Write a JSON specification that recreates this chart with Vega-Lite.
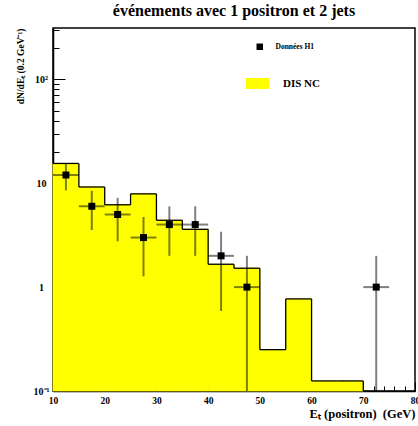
{
  "$schema": "https://vega.github.io/schema/vega-lite/v6.json",
  "autosize": {"type": "none"},
  "padding": {"left": 53, "top": 28, "right": 3, "bottom": 35},
  "width": 362,
  "height": 363,
  "background": "white",
  "config": {
    "view": {"stroke": "black", "strokeWidth": 1.5},
    "font": "Liberation Serif",
    "axis": {"labelFont": "Liberation Serif", "labelFontWeight": "bold", "labelColor": "black", "titleFont": "Liberation Serif", "titleFontWeight": "bold", "titleColor": "black", "tickColor": "black", "domainColor": "black", "grid": false, "zindex": 1},
    "legend": {"labelFont": "Liberation Serif", "labelFontWeight": "bold", "labelColor": "black", "padding": 0, "title": null}
  },
  "title": {"text": "événements avec 1 positron et 2 jets", "font": "Liberation Serif", "fontWeight": "bold", "fontSize": 16, "anchor": "middle", "frame": "group", "baseline": "alphabetic", "offset": 10, "dy": 14, "color": "black"},
  "datasets": {
    "hist": [
      {"lo": 10, "hi": 15, "v": 15.5, "next": 9.2, "series": "DIS NC"},
      {"lo": 15, "hi": 20, "v": 9.2, "next": 6.2, "series": "DIS NC"},
      {"lo": 20, "hi": 25, "v": 6.2, "next": 7.9, "series": "DIS NC"},
      {"lo": 25, "hi": 30, "v": 7.9, "next": 4.4, "series": "DIS NC"},
      {"lo": 30, "hi": 35, "v": 4.4, "next": 3.6, "series": "DIS NC"},
      {"lo": 35, "hi": 40, "v": 3.6, "next": 1.66, "series": "DIS NC"},
      {"lo": 40, "hi": 45, "v": 1.66, "next": 1.52, "series": "DIS NC"},
      {"lo": 45, "hi": 50, "v": 1.52, "next": 0.25, "series": "DIS NC"},
      {"lo": 50, "hi": 55, "v": 0.25, "next": 0.77, "series": "DIS NC"},
      {"lo": 55, "hi": 60, "v": 0.77, "next": 0.125, "series": "DIS NC"},
      {"lo": 60, "hi": 65, "v": 0.125, "next": 0.125, "series": "DIS NC"},
      {"lo": 65, "hi": 70, "v": 0.125, "next": 0.1, "series": "DIS NC"}
    ],
    "pts": [
      {"x": 12.5, "xlo": 10, "xhi": 15, "n": 12, "elo": 8.54, "ehi": 15.46, "series": "Données H1"},
      {"x": 17.5, "xlo": 15, "xhi": 20, "n": 6, "elo": 3.55, "ehi": 8.45, "series": "Données H1"},
      {"x": 22.5, "xlo": 20, "xhi": 25, "n": 5, "elo": 2.76, "ehi": 7.24, "series": "Données H1"},
      {"x": 27.5, "xlo": 25, "xhi": 30, "n": 3, "elo": 1.27, "ehi": 4.73, "series": "Données H1"},
      {"x": 32.5, "xlo": 30, "xhi": 35, "n": 4, "elo": 2, "ehi": 6, "series": "Données H1"},
      {"x": 37.5, "xlo": 35, "xhi": 40, "n": 4, "elo": 2, "ehi": 6, "series": "Données H1"},
      {"x": 42.5, "xlo": 40, "xhi": 45, "n": 2, "elo": 0.59, "ehi": 3.41, "series": "Données H1"},
      {"x": 47.5, "xlo": 45, "xhi": 50, "n": 1, "elo": 0.1, "ehi": 2, "series": "Données H1"},
      {"x": 72.5, "xlo": 70, "xhi": 75, "n": 1, "elo": 0.1, "ehi": 2, "series": "Données H1"}
    ]
  },
  "resolve": {"axis": {"x": "independent", "y": "independent"}},
  "layer": [
    {
      "data": {"name": "hist"},
      "mark": {"type": "rect", "stroke": "#ffff00", "strokeWidth": 0.8},
      "encoding": {
        "x": {"field": "lo", "type": "quantitative", "scale": {"domain": [10, 80], "nice": false, "zero": false},
          "axis": {"orient": "bottom", "values": [10, 20, 30, 40, 50, 60, 70, 80], "ticks": false, "domain": true, "domainWidth": 1.5, "labelFontSize": 9.5, "labelPadding": 4, "labelFlush": false, "labelOverlap": false, "labelBound": false,
            "title": "Eₜ (positron)\u00a0\u00a0(GeV)", "titleFontSize": 12.5, "titleX": 362, "titleY": 26, "titleAlign": "right", "titleBaseline": "alphabetic", "titleAnchor": null}},
        "x2": {"field": "hi"},
        "y": {"field": "v", "type": "quantitative", "scale": {"type": "log", "domain": [0.1, 312], "nice": false},
          "axis": {"orient": "left", "values": [0.1, 1, 10, 100], "ticks": false, "domain": true, "domainWidth": 1.5, "labelFontSize": 10, "labelPadding": 12, "labelAlign": "center", "labelBaseline": "middle", "labelFlush": false, "labelOverlap": false, "labelBound": false,
            "labelExpr": "datum.value < 0.5 ? '10⁻¹' : datum.value > 50 ? '10²' : format(datum.value, 'd')",
            "title": "dN/dEₜ (0.2 GeV⁻¹)", "titleFontSize": 9.5, "titleAngle": -90, "titleX": -33, "titleY": 0, "titleAlign": "right", "titleBaseline": "middle", "titleAnchor": null}},
        "y2": {"datum": 0.1},
        "fill": {"field": "series", "type": "nominal", "scale": {"range": ["#ffff00"]},
          "legend": {"orient": "none", "legendX": 193, "legendY": 44, "symbolType": "M-1,-0.478H1V0.478H-1Z", "symbolSize": 529, "symbolStrokeWidth": 0, "labelFontSize": 11, "labelOffset": 14}}
      }
    },
    {
      "data": {"name": "hist"},
      "mark": {"type": "rule", "color": "black", "strokeWidth": 1.3},
      "encoding": {
        "x": {"field": "lo", "type": "quantitative",
          "axis": {"orient": "bottom", "values": [10, 20, 30, 40, 50, 60, 70, 80], "ticks": true, "tickSize": -9, "tickWidth": 1, "labels": false, "domain": false, "title": null}},
        "x2": {"field": "hi"},
        "y": {"field": "v", "type": "quantitative",
          "axis": {"orient": "left", "values": [0.1, 1, 10, 100], "ticks": true, "tickSize": -12, "tickWidth": 1, "labels": false, "domain": false, "title": null}}
      }
    },
    {
      "data": {"name": "hist"},
      "mark": {"type": "rule", "color": "black", "strokeWidth": 1.3},
      "encoding": {
        "x": {"field": "hi", "type": "quantitative",
          "axis": {"orient": "bottom", "values": [12, 14, 16, 18, 22, 24, 26, 28, 32, 34, 36, 38, 42, 44, 46, 48, 52, 54, 56, 58, 62, 64, 66, 68, 72, 74, 76, 78], "ticks": true, "tickSize": -5, "tickWidth": 1, "labels": false, "domain": false, "title": null}},
        "y": {"field": "v", "type": "quantitative",
          "axis": {"orient": "left", "values": [0.2, 0.3, 0.4, 0.5, 0.6, 0.7, 0.8, 0.9, 2, 3, 4, 5, 6, 7, 8, 9, 20, 30, 40, 50, 60, 70, 80, 90, 200, 300], "ticks": true, "tickSize": -6, "tickWidth": 1, "labels": false, "domain": false, "title": null}},
        "y2": {"field": "next"}
      }
    },
    {
      "data": {"name": "pts"},
      "mark": {"type": "rule", "color": "black", "strokeWidth": 2, "opacity": 0.5},
      "encoding": {
        "x": {"field": "x", "type": "quantitative", "axis": null},
        "y": {"field": "elo", "type": "quantitative", "axis": null},
        "y2": {"field": "ehi"}
      }
    },
    {
      "data": {"name": "pts"},
      "mark": {"type": "rule", "color": "black", "strokeWidth": 2, "opacity": 0.5},
      "encoding": {
        "x": {"field": "xlo", "type": "quantitative", "axis": null},
        "x2": {"field": "xhi"},
        "y": {"field": "n", "type": "quantitative", "axis": null}
      }
    },
    {
      "data": {"name": "pts"},
      "mark": {"type": "point", "filled": true, "color": "black", "size": 49, "opacity": 1},
      "encoding": {
        "x": {"field": "x", "type": "quantitative", "axis": null},
        "y": {"field": "n", "type": "quantitative", "axis": null},
        "shape": {"field": "series", "type": "nominal", "scale": {"range": ["square"]},
          "legend": {"orient": "none", "legendX": 203, "legendY": 15, "symbolType": "square", "symbolSize": 42, "symbolFillColor": "black", "symbolStrokeWidth": 0, "labelFontSize": 7.5, "labelOffset": 12}}
      }
    }
  ]
}
